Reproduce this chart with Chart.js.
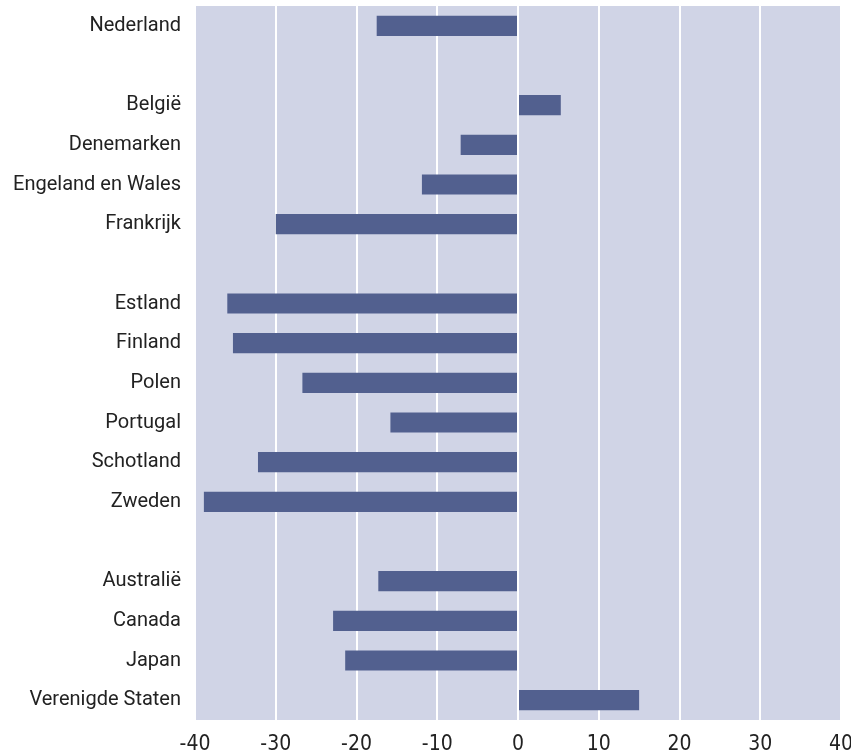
<!DOCTYPE html>
<html><head><meta charset="utf-8">
<script src="https://cdn.jsdelivr.net/npm/chart.js@4"></script>
<style>html,body{margin:0;padding:0;background:#fff}#wrap{width:851px;height:753px}</style>
</head><body><div id="wrap"><canvas id="c" width="851" height="753"></canvas></div>
<script>
const categories = ['Nederland','','België','Denemarken','Engeland en Wales','Frankrijk','','Estland','Finland','Polen','Portugal','Schotland','Zweden','','Australië','Canada','Japan','Verenigde Staten'];
const values = [-17.5,null,5.3,-7.1,-11.9,-30.0,null,-36.0,-35.3,-26.7,-15.8,-32.2,-38.9,null,-17.3,-22.9,-21.4,15.0];
const xTicks = [-40,-30,-20,-10,0,10,20,30,40];

const bgPlugin = {id:'bg', beforeDraw(chart){const {ctx,chartArea:a}=chart;ctx.save();ctx.fillStyle='#d0d4e6';ctx.fillRect(a.left,a.top,a.right-a.left,a.bottom-a.top);ctx.restore();}};

new Chart(document.getElementById('c'),{
  type:'bar',
  data:{labels:categories,datasets:[{data:values,backgroundColor:'#52608f',barPercentage:0.51,categoryPercentage:1}]},
  options:{
    indexAxis:'y',responsive:false,animation:false,devicePixelRatio:1,
    layout:{padding:{top:6,right:10,bottom:0,left:0}},
    plugins:{legend:{display:false},tooltip:{enabled:false}},
    scales:{
      x:{min:-40,max:40,
        afterBuildTicks(s){s.ticks=xTicks.map(v=>({value:v}));},
        afterFit(s){s.height=33;s.paddingLeft=0;s.paddingRight=0;},
        grid:{color:'#ffffff',lineWidth:2,drawTicks:false},border:{display:false},
        ticks:{color:'#222',font:{family:'Liberation Sans Narrow, DejaVu Sans Condensed, Roboto',size:21},padding:12,maxRotation:0}},
      y:{grid:{display:false,drawTicks:false},border:{display:false},
        ticks:{color:'#222',font:{family:'Roboto',size:20},padding:14,autoSkip:false},
        afterFit(s){s.width=195;s.paddingTop=0;s.paddingBottom=0;}}
    }
  },
  plugins:[bgPlugin]
});
</script></body></html>
